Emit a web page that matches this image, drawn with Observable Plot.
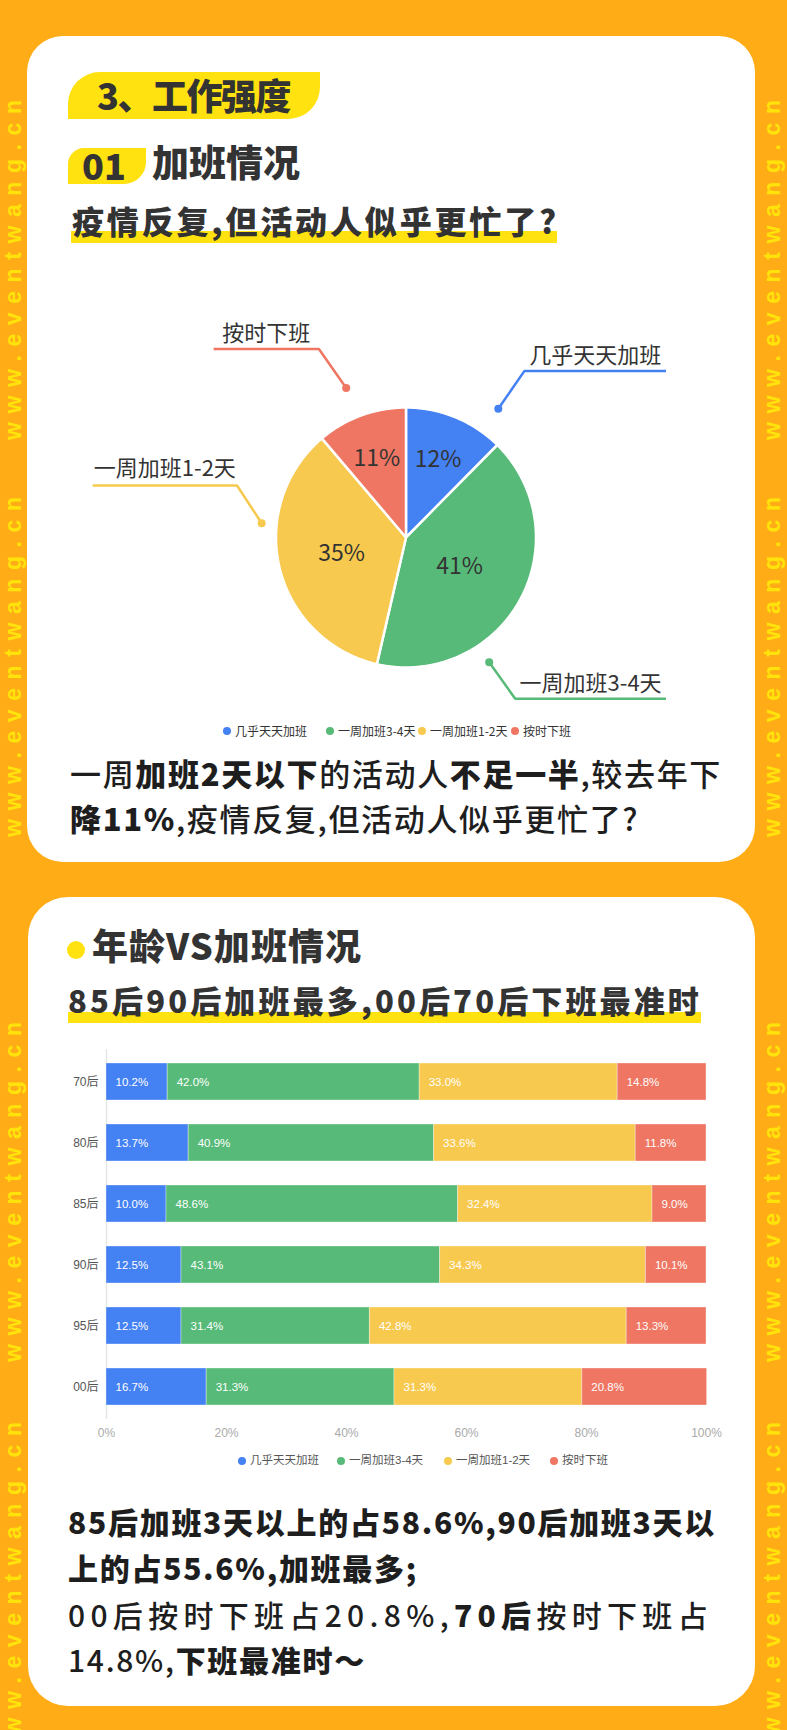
<!DOCTYPE html>
<html><head><meta charset="utf-8">
<script src="https://cdn.jsdelivr.net/npm/d3@7"></script>
<script src="https://cdn.jsdelivr.net/npm/@observablehq/plot@0.6"></script>
<style>
html,body{margin:0;padding:0;}
body{width:787px;height:1730px;background:#FFAC17;overflow:hidden;}
#page{position:relative;width:787px;height:1730px;font-family:"Noto Sans CJK SC",sans-serif;color:#2a2a2a;}
.card{position:absolute;background:#fff;}
.t{position:absolute;white-space:nowrap;line-height:1;}
.hl{position:absolute;background:#FFE20F;}
.m{font-weight:500;}
.b{font-weight:900;}
.lg{position:absolute;display:flex;align-items:center;white-space:nowrap;line-height:1;}
.lg i{display:inline-block;width:8px;height:8px;border-radius:50%;margin-right:4px;}
#wm{position:absolute;left:0;top:0;}
</style></head>
<body><div id="page">
<svg id="wm" width="787" height="1730"></svg>

<div class="card" style="left:27px;top:36px;width:728px;height:826px;border-radius:36px"></div>
<div class="card" style="left:28px;top:897px;width:727px;height:809px;border-radius:40px"></div>

<div class="hl" style="left:68px;top:72px;width:252px;height:47px;border-radius:32px 0 32px 0"></div>
<div class="t b fit" data-w="193" style="left:97px;top:76px;font-size:36px;color:#333">3、工作强度</div>

<div class="hl" style="left:68px;top:148px;width:78px;height:36px;border-radius:16px 0 22px 0"></div>
<div class="t b" style="left:82px;top:146px;font-size:36px;color:#333">01</div>
<div class="t b" style="left:152px;top:143px;font-size:37px;color:#333">加班情况</div>

<div class="hl" style="left:71px;top:231px;width:486px;height:12px"></div>
<div class="t b fit" data-w="487" style="left:72px;top:204px;font-size:32px;color:#333">疫情反复,但活动人似乎更忙了?</div>

<div id="pie" style="position:absolute;left:27px;top:290px;"></div>
<div id="legend1"></div>

<div class="t fit" id="p1a" data-w="652" style="left:70px;top:757px;font-size:31px;color:#1e1e1e"><span class="m">一周</span><span class="b">加班2天以下</span><span class="m">的活动人</span><span class="b">不足一半</span><span class="m">,较去年下</span></div>
<div class="t" id="p1b" style="left:70px;top:802px;font-size:31px;color:#1e1e1e"><span class="b">降11%</span><span class="m">,疫情反复,但活动人似乎更忙了?</span></div>

<div style="position:absolute;left:67px;top:941px;width:18px;height:18px;border-radius:50%;background:#FFE20F"></div>
<div class="t b fit" data-w="270" style="left:92px;top:926px;font-size:36px;color:#333">年龄VS加班情况</div>
<div class="hl" style="left:68px;top:1012px;width:633px;height:11px"></div>
<div class="t b fit" data-w="634" style="left:68px;top:984px;font-size:31px;color:#333">85后90后加班最多,00后70后下班最准时</div>

<div id="bars" style="position:absolute;left:0;top:1030px;"></div>
<div id="legend2"></div>

<div class="t fit" id="p2a" data-w="648" style="left:68px;top:1506px;font-size:30px;color:#1e1e1e"><span class="b">85后加班3天以上的占58.6%,90后加班3天以</span></div>
<div class="t" id="p2b" style="left:68px;top:1552px;font-size:30px;color:#1e1e1e"><span class="b">上的占55.6%,加班最多;</span></div>
<div class="t fit" id="p2c" data-w="645" style="left:68px;top:1599px;font-size:30px;color:#1e1e1e"><span class="m">00后按时下班占20.8%,</span><span class="b">70后</span><span class="m">按时下班占</span></div>
<div class="t" id="p2d" style="left:68px;top:1644px;font-size:30px;color:#1e1e1e"><span class="m">14.8%,</span><span class="b">下班最准时～</span></div>
</div>

<script>
// ---------------- data ----------------
const categories = ["几乎天天加班", "一周加班3-4天", "一周加班1-2天", "按时下班"];
const pieShares = [12.4, 41.2, 35.2, 11.2];

const ages = ["70后", "80后", "85后", "90后", "95后", "00后"];
const almostDaily = [10.2, 13.7, 10.0, 12.5, 12.5, 16.7];
const days3to4   = [42.0, 40.9, 48.6, 43.1, 31.4, 31.3];
const days1to2   = [33.0, 33.6, 32.4, 34.3, 42.8, 31.3];
const onTime     = [14.8, 11.8, 9.0, 10.1, 13.3, 20.8];
const xTicks = [0, 20, 40, 60, 80, 100];

const watermarkText = "www.eventwang.cn";

// ---------------- styles / layout ----------------
const palette = ["#4481F3", "#57BA78", "#F7C94F", "#EE7662"];
const pieW = 728, pieH = 420, pieCX = 378.5, pieCY = 247, pieR = 130;
const labelRadius = [0.65, 0.47, 0.51, 0.65];
const leaderLayout = [
  {dot: [0.71, -0.99], elbow: [0.91, -1.28], end: 2.0, dy: -15},
  {dot: [0.64, 0.96], elbow: [0.84, 1.24], end: 2.0, dy: -15},
  {dot: [-1.11, -0.11], elbow: [-1.30, -0.40], end: -2.41, dy: -17},
  {dot: [-0.46, -1.15], elbow: [-0.67, -1.45], end: -1.48, dy: -15}
];

// ---------------- watermark ----------------
(function(){
  const svg = d3.select("#wm");
  const ends = [100, 497, 1022, 1422];   // top end of each repeated string
  const strips = [20.5, 780];
  strips.forEach(bx => {
    ends.forEach(top => {
      svg.append("text")
        .attr("transform", `translate(${bx},${top + 340}) rotate(-90)`)
        .attr("textLength", 340).attr("lengthAdjust", "spacing")
        .attr("font-family", "Liberation Sans").attr("font-size", 23).attr("font-weight", 700)
        .attr("fill", "#FFE30A").text(watermarkText);
    });
  });
})();

// ---------------- pie ----------------
(function(){
  const total = d3.sum(pieShares);
  const slices = [], mids = [], leaderPts = [], dots = [], ltexts = [];
  let acc = 0;
  categories.forEach((c, i) => {
    const a0 = acc / total * 2 * Math.PI; acc += pieShares[i];
    const a1 = acc / total * 2 * Math.PI;
    slices.push({cat: c, x: 0, y: 0});
    const n = Math.max(2, Math.ceil((a1 - a0) / (Math.PI / 180)));
    for (let k = 0; k <= n; k++) {
      const a = a0 + (a1 - a0) * k / n;
      slices.push({cat: c, x: Math.sin(a), y: -Math.cos(a)});
    }
    slices.push({cat: c, x: 0, y: 0});
    const am = (a0 + a1) / 2;
    mids.push({cat: c, x: labelRadius[i] * Math.sin(am), y: -labelRadius[i] * Math.cos(am), label: Math.round(pieShares[i]) + "%"});
    const L = leaderLayout[i];
    leaderPts.push({cat: c, x: L.dot[0], y: L.dot[1]}, {cat: c, x: L.elbow[0], y: L.elbow[1]}, {cat: c, x: L.end, y: L.elbow[1]});
    dots.push({cat: c, x: L.dot[0], y: L.dot[1]});
    ltexts.push({cat: c, x: (L.elbow[0] + L.end) / 2, y: L.elbow[1], dy: L.dy});
  });
  const chart = Plot.plot({
    width: pieW, height: pieH, margin: 0,
    x: {domain: [-pieCX / pieR, (pieW - pieCX) / pieR], range: [0, pieW], axis: null},
    y: {domain: [-pieCY / pieR, (pieH - pieCY) / pieR], range: [0, pieH], axis: null},
    color: {domain: categories, range: palette},
    style: {background: "transparent", fontFamily: '"Noto Sans CJK SC", sans-serif', overflow: "visible"},
    marks: [
      Plot.line(slices, {x: "x", y: "y", z: "cat", fill: "cat", stroke: "#fff", strokeWidth: 2.5, strokeLinejoin: "round"}),
      Plot.line(leaderPts, {x: "x", y: "y", z: "cat", stroke: "cat", strokeWidth: 2.5, strokeLinejoin: "miter", strokeLinecap: "butt"}),
      Plot.dot(dots, {x: "x", y: "y", fill: "cat", r: 4}),
      ...ltexts.map(t => Plot.text([t], {x: "x", y: "y", text: "cat", fontSize: 22, fill: "#333", dy: t.dy})),
      Plot.text(mids, {x: "x", y: "y", text: "label", fontSize: 23, fill: "#333"})
    ]
  });
  document.getElementById("pie").append(chart);
})();

// ---------------- legends ----------------
function legend(id, xs, y, fontSize, color, family) {
  const host = document.getElementById(id);
  categories.forEach((c, i) => {
    const d = document.createElement("div");
    d.className = "lg";
    d.style.left = (xs[i] - 4) + "px";
    d.style.top = (y - 6) + "px";
    d.style.height = "12px";
    d.style.fontSize = fontSize + "px";
    d.style.color = color;
    d.style.fontFamily = family;
    d.innerHTML = `<i style="background:${palette[i]}"></i><span>${c}</span>`;
    host.append(d);
  });
}
legend("legend1", [227, 330, 422, 515], 731, 12, "#333", '"Noto Sans CJK SC", sans-serif');
legend("legend2", [242, 341, 448, 554], 1461, 11.5, "#555", '"Liberation Sans","Noto Sans CJK SC", sans-serif');

// ---------------- stacked bars ----------------
(function(){
  const series = [almostDaily, days3to4, days1to2, onTime];
  const rows = [];
  ages.forEach((a, i) => series.forEach((vals, j) => rows.push({age: a, cat: categories[j], value: vals[i]})));
  const chart = Plot.plot({
    width: 787, height: 420, marginLeft: 106, marginRight: 81, marginTop: 19, marginBottom: 31,
    x: {domain: [0, 100]},
    y: {domain: ages, paddingInner: 0.4, paddingOuter: 0.2},
    color: {domain: categories, range: palette},
    style: {background: "transparent", fontFamily: '"Liberation Sans","Noto Sans CJK SC",sans-serif', overflow: "visible"},
    marks: [
      Plot.ruleX([0], {stroke: "#e6e6e6", strokeWidth: 1.5}),
      Plot.barX(rows, {x: "value", y: "age", z: "cat", order: categories, fill: "cat", stroke: "#fff", strokeOpacity: 0.35, strokeWidth: 1}),
      Plot.text(rows, Plot.stackX1({x: "value", y: "age", z: "cat", order: categories, text: d => d.value.toFixed(1) + "%", textAnchor: "start", dx: 9, fill: "#fff", fontSize: 11.5})),
      Plot.axisX({ticks: xTicks, tickFormat: d => d + "%", tickSize: 0, tickPadding: 9, color: "#aaa", fontSize: 12, label: null}),
      Plot.axisY({tickSize: 0, tickPadding: 8, color: "#555", fontSize: 12, label: null})
    ]
  });
  document.getElementById("bars").append(chart);
})();

// ---------------- text fitting ----------------
function fitAll() {
  const fits = {};
  document.querySelectorAll(".fit").forEach(el => {
    el.style.letterSpacing = "0px";
    const w = el.getBoundingClientRect().width;
    const n = [...el.textContent].length;
    const ls = (+el.dataset.w - w) / n;
    el.style.letterSpacing = ls + "px";
    if (el.id) fits[el.id] = ls;
  });
  if (fits.p1a != null) document.getElementById("p1b").style.letterSpacing = fits.p1a + "px";
  if (fits.p2a != null) document.getElementById("p2b").style.letterSpacing = fits.p2a + "px";
  if (fits.p2a != null) document.getElementById("p2d").style.letterSpacing = fits.p2a + "px";
}
fitAll();
if (document.fonts && document.fonts.ready) document.fonts.ready.then(fitAll);
</script>
</body></html>
